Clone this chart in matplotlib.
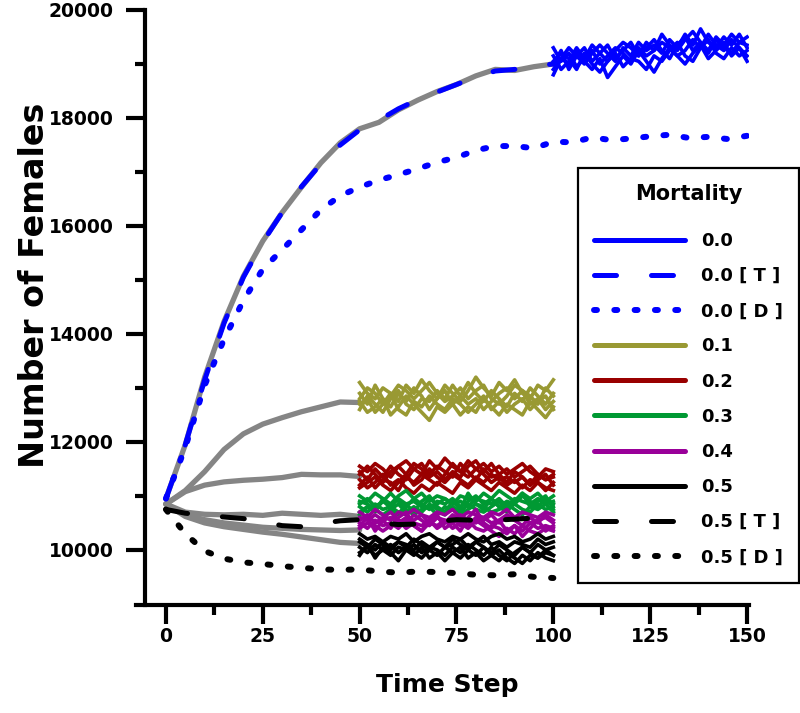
"""
Female population over time for different mortality rates, with the
theoretical [T] and deterministic [D] curves for mortality 0.0 and 0.5.
"""

import matplotlib
matplotlib.use('Agg')
import matplotlib.pyplot as plt
from matplotlib.lines import Line2D

# Burn-in phase (grey mean curves).
t_burn = [0, 5, 10, 15, 20, 25, 30, 35, 40, 45, 50]
t_burn0 = [0, 5, 10, 15, 20, 25, 30, 35, 40, 45, 50, 55, 60, 65, 70, 75, 80, 85, 90, 95, 100]
grey_00 = [10950, 11950, 13200, 14230, 15070, 15720, 16250, 16720, 17170, 17540, 17800,
           17920, 18150, 18330, 18490, 18620, 18780, 18900, 18880, 18950, 19000]
grey_01 = [10850, 11100, 11450, 11860, 12150, 12330, 12450, 12560, 12650, 12740, 12730]
grey_02 = [10850, 11080, 11200, 11260, 11290, 11310, 11340, 11400, 11390, 11390, 11360]
grey_03 = [10850, 10700, 10660, 10650, 10660, 10640, 10680, 10660, 10640, 10660, 10620]
grey_04 = [10850, 10650, 10560, 10500, 10460, 10420, 10400, 10380, 10370, 10360, 10370]
grey_05 = [10850, 10620, 10500, 10430, 10380, 10330, 10290, 10240, 10190, 10140, 10120]

# Theoretical [T] and deterministic [D] curves.
t_model = [0, 5, 10, 15, 20, 25, 30, 35, 40, 45, 50, 55, 60, 65, 70, 75, 80, 85, 90, 95, 100]
t_model_long = t_model + [105, 110, 115, 120, 125, 130, 135, 140, 145, 150]
theory_00 = [10950, 11950, 13150, 14200, 15050, 15700, 16250, 16730, 17150, 17500, 17780,
             17960, 18170, 18340, 18480, 18620, 18760, 18870, 18900, 18960, 19000]
determ_00 = [10950, 11900, 13050, 13900, 14620, 15200, 15560, 15930, 16300, 16560, 16720,
             16850, 16950, 17060, 17180, 17270, 17400, 17480, 17480, 17440, 17560,
             17550, 17640, 17590, 17620, 17660, 17690, 17630, 17650, 17610, 17670]
theory_05 = [10750, 10680, 10640, 10610, 10580, 10520, 10450, 10430, 10490, 10540, 10560,
             10500, 10470, 10480, 10530, 10560, 10550, 10550, 10570, 10590, 10580]
determ_05 = [10750, 10300, 9980, 9840, 9770, 9740, 9700, 9670, 9640, 9630, 9640,
             9600, 9580, 9600, 9590, 9570, 9540, 9530, 9550, 9500, 9480]

# Replicate runs after the burn-in.
t_rep0 = [100, 102, 104, 106, 108, 110, 112, 114, 116, 118, 120, 122, 124,
          126, 128, 130, 132, 134, 136, 138, 140, 142, 144, 146, 148, 150]
t_rep = [50, 52, 54, 56, 58, 60, 62, 64, 66, 68, 70, 72, 74,
         76, 78, 80, 82, 84, 86, 88, 90, 92, 94, 96, 98, 100]

runs_00 = [
    [19000, 19250, 18900, 19150, 19300, 19050, 19200, 19350, 19100, 19250, 19400, 19150, 19300,
     19450, 19250, 19100, 19350, 19500, 19250, 19400, 19200, 19450, 19300, 19200, 19400, 19350],
    [19300, 19050, 19200, 18950, 19100, 19250, 19000, 19150, 19300, 19200, 19050, 19300, 19150,
     19250, 19400, 19300, 19150, 19250, 19450, 19300, 19550, 19350, 19250, 19450, 19300, 19150],
    [18800, 19100, 19000, 19250, 19050, 18900, 19100, 18750, 18950, 19150, 19000, 19250, 19050,
     18850, 19100, 19300, 19150, 19000, 19200, 19350, 19100, 19250, 19400, 19150, 19300, 19050],
    [19150, 18900, 19050, 19300, 19100, 19350, 19200, 19050, 19250, 19400, 19300, 19150, 19400,
     19250, 19550, 19350, 19250, 19450, 19600, 19400, 19250, 19500, 19350, 19550, 19400, 19500],
    [19050, 19200, 19100, 18900, 19200, 19000, 18850, 19050, 19200, 18950, 19100, 19050, 18900,
     19150, 19050, 19250, 19400, 19150, 19050, 19300, 19450, 19200, 19100, 19300, 19150, 19250],
    [18900, 19100, 19300, 19150, 19000, 19200, 19350, 19200, 19050, 19300, 19150, 19400, 19250,
     19350, 19200, 19450, 19300, 19550, 19350, 19650, 19400, 19300, 19500, 19350, 19550, 19300],
]
runs_01 = [
    [12900, 12700, 13050, 12800, 12650, 12900, 12750, 13000, 12850, 12600, 12800, 12950, 12700,
     12850, 13100, 12900, 12750, 12950, 12800, 12650, 12900, 12750, 13000, 12850, 12700, 12900],
    [12600, 12850, 12700, 12550, 12800, 12950, 12700, 12600, 12800, 12750, 12950, 12800, 13050,
     12850, 12700, 12800, 12600, 12750, 12900, 13000, 12800, 12950, 12700, 12800, 12600, 12750],
    [13100, 12900, 12800, 13000, 12900, 12750, 13050, 12900, 13150, 12950, 12800, 13050, 12900,
     12750, 12950, 13200, 13000, 12850, 13100, 12950, 13150, 12900, 12800, 13050, 12950, 13150],
    [12750, 12550, 12650, 12800, 12500, 12650, 12850, 12700, 12550, 12400, 12650, 12550, 12700,
     12500, 12650, 12550, 12800, 12650, 12500, 12700, 12600, 12500, 12750, 12600, 12450, 12650],
    [12800, 13000, 12900, 12700, 12850, 13050, 12950, 12800, 12950, 13100, 12900, 12750, 12850,
     13000, 12800, 12950, 13050, 12800, 12700, 12850, 13050, 12950, 12850, 12700, 13000, 12850],
    [12700, 12800, 12550, 12700, 12900, 12600, 12500, 12750, 12650, 12850, 12700, 12600, 12800,
     12700, 12550, 12700, 12850, 12600, 12750, 12550, 12700, 12800, 12600, 12750, 12850, 12600],
]
runs_02 = [
    [11450, 11300, 11500, 11350, 11550, 11400, 11300, 11500, 11600, 11400, 11550, 11450, 11350,
     11600, 11450, 11300, 11500, 11350, 11400, 11250, 11450, 11350, 11200, 11400, 11300, 11400],
    [11200, 11350, 11150, 11300, 11250, 11100, 11350, 11250, 11400, 11300, 11200, 11400, 11600,
     11450, 11350, 11500, 11400, 11250, 11350, 11200, 11300, 11150, 11300, 11250, 11100, 11250],
    [11550, 11450, 11600, 11500, 11350, 11550, 11650, 11500, 11400, 11650, 11500, 11700, 11550,
     11450, 11650, 11500, 11600, 11450, 11550, 11400, 11500, 11600, 11450, 11350, 11500, 11450],
    [11300, 11150, 11250, 11400, 11200, 11300, 11150, 11050, 11200, 11100, 11250, 11150, 11050,
     11250, 11150, 11300, 11200, 11100, 11250, 11150, 11050, 11200, 11100, 11250, 11150, 11100],
    [11400, 11550, 11400, 11250, 11450, 11550, 11400, 11600, 11500, 11350, 11450, 11300, 11450,
     11350, 11550, 11650, 11450, 11600, 11400, 11500, 11350, 11450, 11550, 11400, 11300, 11350],
    [11150, 11250, 11350, 11200, 11100, 11250, 11400, 11200, 11300, 11500, 11350, 11250, 11400,
     11300, 11200, 11350, 11250, 11400, 11300, 11350, 11250, 11350, 11200, 11300, 11400, 11200],
]
runs_03 = [
    [10850, 10950, 10800, 10900, 11050, 10900, 10800, 10950, 10850, 10750, 10900, 10850, 10950,
     10800, 10900, 11000, 10850, 10950, 10800, 10900, 10850, 11000, 10900, 10800, 10950, 10850],
    [10700, 10800, 10750, 10650, 10750, 10850, 10700, 10800, 10700, 10850, 10750, 10650, 10800,
     10700, 10850, 10750, 10700, 10800, 10900, 10750, 10850, 10750, 10700, 10850, 10750, 10800],
    [11000, 10900, 11050, 10950, 10850, 11000, 11100, 10950, 11050, 10900, 11000, 10950, 10850,
     11000, 10950, 10900, 11050, 10950, 11100, 11000, 10900, 11050, 10950, 11050, 10900, 11000],
    [10800, 10700, 10850, 10750, 10800, 10700, 10750, 10650, 10750, 10800, 10650, 10800, 10750,
     10650, 10750, 10850, 10800, 10700, 10750, 10850, 10750, 10650, 10800, 10750, 10850, 10700],
    [10900, 10850, 10750, 10900, 10800, 10950, 10850, 10900, 10800, 10950, 10850, 10950, 10850,
     10900, 10800, 10950, 10900, 10850, 10950, 10800, 10950, 10900, 10850, 10950, 10850, 10900],
    [10650, 10800, 10700, 10950, 10750, 10650, 10850, 10700, 10900, 11000, 10800, 10700, 10900,
     10750, 11050, 10850, 10750, 10950, 10800, 10700, 10900, 11050, 10800, 10900, 11000, 10750],
]
runs_04 = [
    [10550, 10650, 10500, 10600, 10700, 10550, 10500, 10650, 10550, 10450, 10600, 10500, 10650,
     10550, 10450, 10600, 10550, 10650, 10500, 10600, 10550, 10450, 10600, 10500, 10650, 10550],
    [10400, 10500, 10450, 10350, 10450, 10550, 10400, 10500, 10450, 10550, 10400, 10500, 10600,
     10450, 10550, 10400, 10350, 10450, 10400, 10300, 10450, 10350, 10500, 10400, 10450, 10400],
    [10700, 10600, 10750, 10650, 10550, 10700, 10650, 10750, 10650, 10600, 10700, 10650, 10750,
     10600, 10700, 10650, 10600, 10700, 10650, 10750, 10600, 10700, 10650, 10600, 10700, 10650],
    [10500, 10400, 10550, 10450, 10500, 10400, 10550, 10450, 10350, 10500, 10450, 10550, 10400,
     10500, 10400, 10550, 10450, 10350, 10250, 10400, 10300, 10450, 10350, 10300, 10400, 10350],
    [10600, 10550, 10650, 10550, 10600, 10500, 10600, 10550, 10650, 10500, 10600, 10550, 10500,
     10650, 10550, 10500, 10600, 10500, 10550, 10650, 10550, 10600, 10500, 10550, 10600, 10500],
    [10450, 10600, 10350, 10550, 10400, 10600, 10700, 10450, 10350, 10550, 10650, 10400, 10500,
     10350, 10600, 10750, 10500, 10400, 10550, 10350, 10450, 10250, 10400, 10550, 10350, 10450],
]
runs_05 = [
    [10150, 10050, 10200, 10100, 10000, 10150, 10050, 10200, 10100, 10000, 10150, 10050, 10200,
     10100, 10000, 10150, 10050, 9950, 10100, 10000, 9900, 10050, 9950, 10100, 10000, 10050],
    [9950, 10050, 9900, 10000, 10100, 9950, 10050, 9950, 9850, 10000, 9900, 10050, 9950,
     9850, 10000, 9900, 10050, 9900, 9800, 9950, 9850, 9750, 9900, 9850, 9950, 9900],
    [10300, 10200, 10250, 10150, 10250, 10200, 10300, 10150, 10250, 10300, 10200, 10150, 10250,
     10200, 10300, 10200, 10150, 10250, 10300, 10200, 10250, 10150, 10200, 10300, 10200, 10250],
    [10050, 9950, 10100, 10000, 9900, 10050, 10000, 10100, 9950, 10050, 10000, 9900, 10050,
     9950, 10100, 10000, 9900, 10050, 9900, 9800, 9950, 10050, 9950, 9850, 10000, 9900],
    [10200, 10100, 10000, 10150, 10050, 10150, 10100, 10000, 10150, 10050, 10150, 10050, 10100,
     10200, 10050, 10150, 10250, 10100, 10150, 10050, 10150, 10100, 10050, 10200, 10100, 10150],
    [9900, 10100, 9850, 10050, 9950, 9800, 10000, 9900, 10050, 9850, 9950, 9800, 9950,
     10050, 9850, 9950, 9800, 9900, 10000, 9850, 9750, 9900, 9800, 9950, 9850, 9800],
]

mortality_labels = ['0.0', '0.0 [ T ]', '0.0 [ D ]', '0.1', '0.2', '0.3', '0.4',
                    '0.5', '0.5 [ T ]', '0.5 [ D ]']

BLUE = '#0000ff'
OLIVE = '#999933'
RED = '#990000'
GREEN = '#009933'
PURPLE = '#990099'
BLACK = '#000000'
GREY = '#858585'

DASH = (0, (4.4, 7.0))
DOT = (0, (0.5, 2.9))

plt.rcParams['font.family'] = 'DejaVu Sans'
plt.rcParams['font.weight'] = 'bold'

fig = plt.figure(figsize=(8, 7.13), dpi=100)
ax = fig.add_axes([145 / 800, 1 - 605 / 713, 604 / 800, 595 / 713])

# Grey burn-in curves.
ax.plot(t_burn0, grey_00, color=GREY, lw=3.8, solid_capstyle='round', zorder=2)
for grey in [grey_01, grey_02, grey_03, grey_04, grey_05]:
    ax.plot(t_burn, grey, color=GREY, lw=3.8, solid_capstyle='round', zorder=2)

# Replicate runs.
for runs, t, color in [(runs_00, t_rep0, BLUE), (runs_01, t_rep, OLIVE),
                       (runs_02, t_rep, RED), (runs_03, t_rep, GREEN),
                       (runs_04, t_rep, PURPLE), (runs_05, t_rep, BLACK)]:
    for run in runs:
        ax.plot(t, run, color=color, lw=2.6, zorder=3)

# Model curves.
ax.plot(t_model, theory_00, color=BLUE, lw=3.6, ls=DASH, dash_capstyle='round', zorder=4)
ax.plot(t_model_long, determ_00, color=BLUE, lw=4.3, ls=DOT, dash_capstyle='round', zorder=4)
ax.plot(t_model, theory_05, color=BLACK, lw=3.6, ls=DASH, dash_capstyle='round', zorder=4)
ax.plot(t_model, determ_05, color=BLACK, lw=4.3, ls=DOT, dash_capstyle='round', zorder=4)

ax.set_xlim(-5.4, 150.5)
ax.set_ylim(8980, 20000)
ax.set_xticks([0, 25, 50, 75, 100, 125, 150])
ax.set_xticks([12.5, 37.5, 62.5, 87.5, 112.5, 137.5], minor=True)
ax.set_yticks([10000, 12000, 14000, 16000, 18000, 20000])
ax.set_yticks([11000, 13000, 15000, 17000, 19000], minor=True)

for side in ['top', 'right']:
    ax.spines[side].set_visible(False)
for side in ['left', 'bottom']:
    ax.spines[side].set_linewidth(3)
ax.spines['bottom'].set_bounds(-7.7, 150.5)

ax.tick_params(which='major', direction='out', length=13.5, width=3, labelsize=13.5)
ax.tick_params(which='minor', direction='out', length=7, width=3)
ax.tick_params(axis='x', pad=2)
ax.tick_params(axis='y', pad=9)

ax.set_xlabel('Time Step', fontsize=18, fontweight='bold', labelpad=20)
ax.set_ylabel('Number of Females', fontsize=24, fontweight='bold')
ax.yaxis.set_label_coords(-0.155, 0.538)

# Legend with proxy lines.
handles = [
    Line2D([], [], color=BLUE, lw=3.6, solid_capstyle='round'),
    Line2D([], [], color=BLUE, lw=3.6, ls=DASH, dash_capstyle='round'),
    Line2D([], [], color=BLUE, lw=4.3, ls=DOT, dash_capstyle='round'),
    Line2D([], [], color=OLIVE, lw=3.6, solid_capstyle='round'),
    Line2D([], [], color=RED, lw=3.6, solid_capstyle='round'),
    Line2D([], [], color=GREEN, lw=3.6, solid_capstyle='round'),
    Line2D([], [], color=PURPLE, lw=3.6, solid_capstyle='round'),
    Line2D([], [], color=BLACK, lw=3.6, solid_capstyle='round'),
    Line2D([], [], color=BLACK, lw=3.6, ls=DASH, dash_capstyle='round'),
    Line2D([], [], color=BLACK, lw=4.3, ls=DOT, dash_capstyle='round'),
]
leg = fig.legend(handles, mortality_labels, title='Mortality', loc='upper left',
                 bbox_to_anchor=(578 / 800, 1 - 168 / 713), borderaxespad=0, fontsize=13,
                 title_fontproperties={'size': 15, 'weight': 'bold'},
                 handlelength=5.0, handletextpad=0.9, labelspacing=0.95,
                 borderpad=0.9, fancybox=False, framealpha=1, edgecolor='black')
leg.get_frame().set_linewidth(1.6)
# more room between the title and the first entry
leg._legend_box.sep = 20

fig.savefig('out.png', dpi=100)
